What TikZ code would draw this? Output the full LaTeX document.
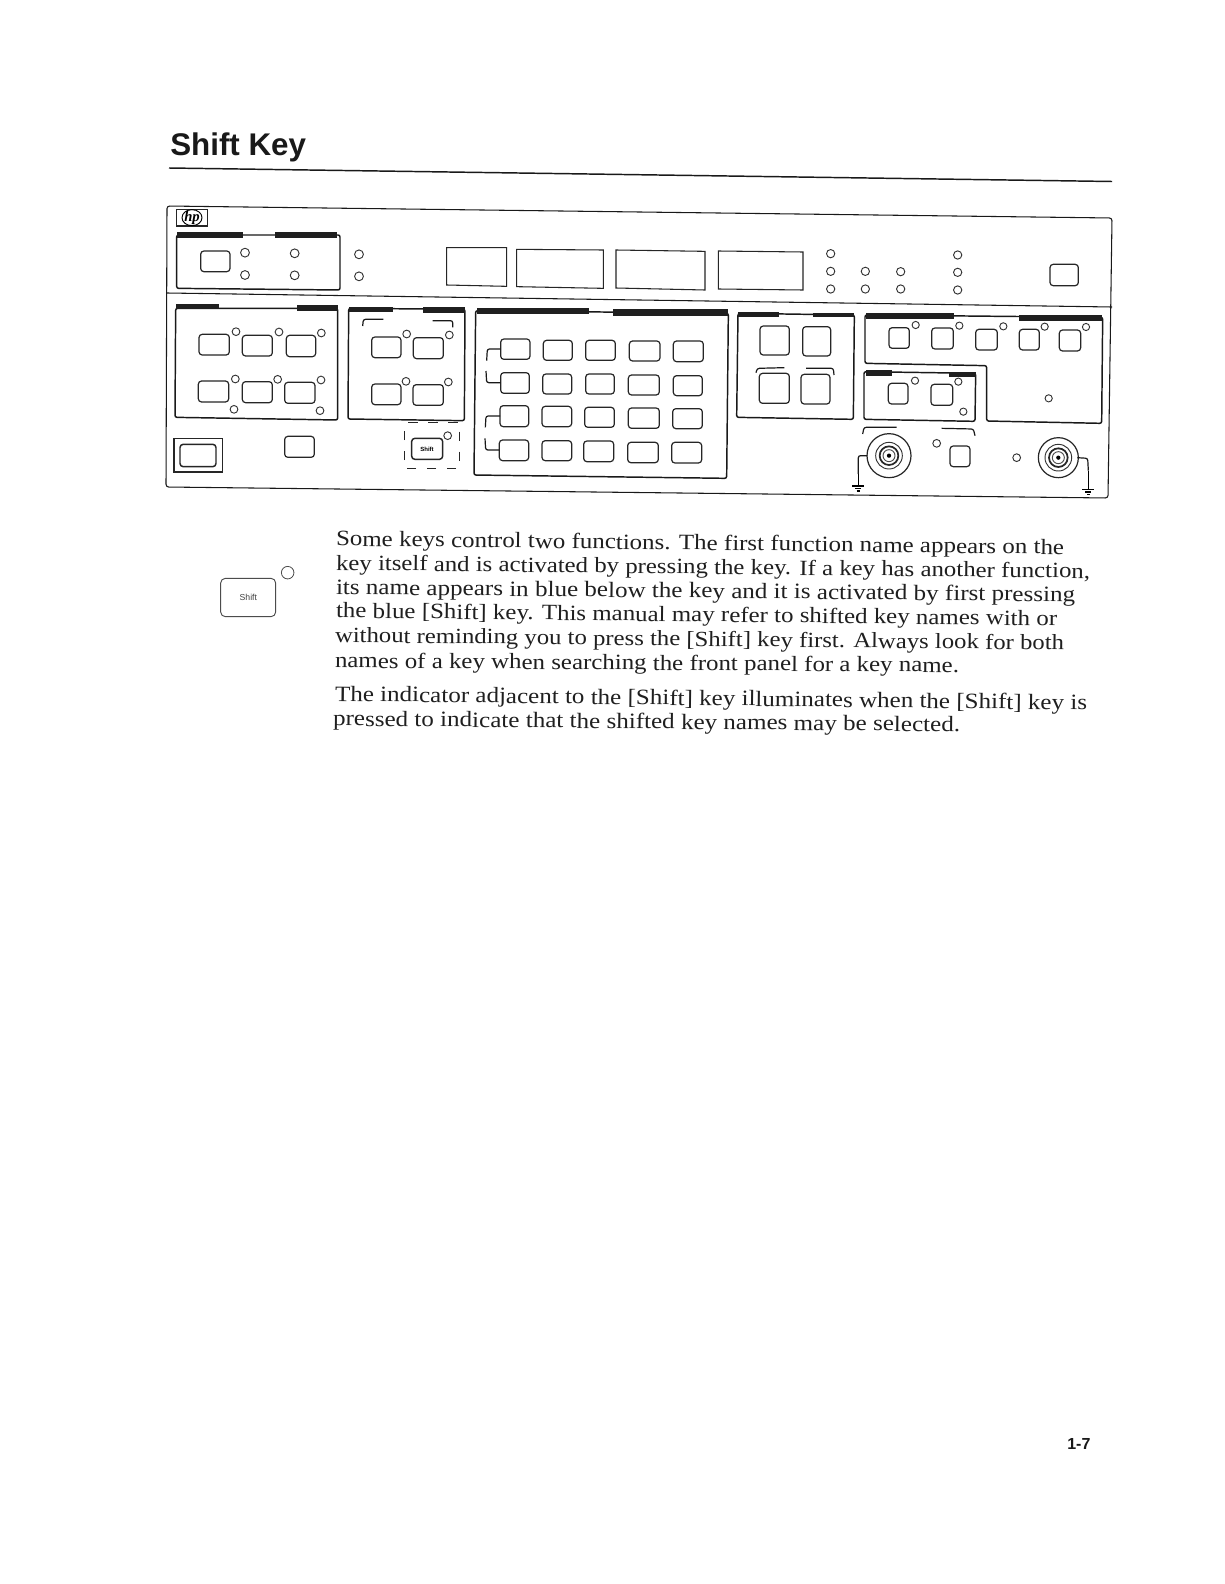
\documentclass[tikz,border=0pt]{standalone}
\usepackage{fontspec}
\setmainfont{Liberation Serif}
\newfontfamily\bodyf[FakeStretch=1.14]{Liberation Serif}
\newfontfamily\headf{Liberation Sans}
\tikzset{
  keybox/.style={draw=black!85,line width=0.9pt,rounded corners=2.4pt,fill=white},
  heavybox/.style={draw=black!90,line width=1.1pt,rounded corners=1.5pt},
  thinbox/.style={draw=black!85,line width=0.8pt},
  led/.style={draw=black!80,line width=0.7pt,fill=white},
  bar/.style={fill=black!88,draw=none},
  wire/.style={draw=black!90,line width=0.9pt,rounded corners=1.6pt},
  rulek/.style={draw=black!90,line width=0.8pt},
  tline/.style={anchor=base west,inner sep=0pt,outer sep=0pt,text=black!88},
  zA/.style={shift={(160,200)},x=0.25pt,y=-0.25pt},
  zB/.style={shift={(460,200)},x=0.25pt,y=-0.25pt},
  zC/.style={shift={(790,200)},x=0.25pt,y=-0.25pt},
  zD/.style={shift={(200,540)},x=0.25pt,y=-0.25pt}
}
\newcommand{\textline}[5]{%
  \pgfmathsetmacro{\angv}{-atan((#4-#2)/(#3-#1))}%
  \pgfmathsetmacro{\wdv}{0.75*(#3-#1)}%
  \node[tline,rotate=\angv] at (#1,#2) {\resizebox{\wdv pt}{!}{\bodyf\fontsize{18}{20}\selectfont #5}};}
\begin{document}
\begin{tikzpicture}[x=0.75pt,y=-0.75pt]
\useasboundingbox[fill=white] (0,0) rectangle (1224,1584);
% heading
\node[anchor=base west,inner sep=0pt,text=black!90] (title) at (170,156) {\headf\bfseries\fontsize{23.5}{26}\selectfont Shift Key};
\coordinate (ruleL) at (169,168);
\coordinate (ruleR) at (1112,181.5);
\draw[line width=1.1pt,black!90] (ruleL) -- (ruleR);
% panel outer
\draw[rulek,rounded corners=2pt] (167,206) -- (1112,218) -- (1108,498) -- (166,487) -- cycle;
\draw[rulek] (167,293) -- (1112,307);
\begin{scope}[zA]
  % logo
  \draw[thinbox] (50,28) rectangle (142,78);
  \draw[line width=0.7pt] (96,53) ellipse (30 and 24);
  \node[inner sep=0pt] (hp) at (96,53) {\bfseries\itshape\fontsize{11}{11}\selectfont hp};
  % panel A
  \draw[heavybox] (50,105) -- (540,105) -- (540,270) -- (50,265) -- cycle;
  \fill[bar] (50,97) rectangle (248,113);
  \fill[bar] (345,97) rectangle (530,113);
  \draw[keybox] (122,153) rectangle (210,215);
  \foreach \p in {(255,158),(255,225),(404,160),(404,226),(597,163),(597,229)}
    \draw[led] \p circle[radius=3.3pt];
  % display 1
  \draw[thinbox] (860,143) -- (1040,143) -- (1040,259) -- (860,255) -- cycle;
  % panel B
  \draw[heavybox] (47,325) -- (533,325) -- (533,660) -- (45,652) -- cycle;
  \fill[bar] (47,312) rectangle (178,328);
  \fill[bar] (410,316) rectangle (533,332);
  \foreach \a/\b/\c/\d in {117/403/208/465,247/406/337/468,379/406/467/470,115/543/206/606,247/545/337/608,374/547/465/610}
    \draw[keybox] (\a,\b) rectangle (\c,\d);
  \foreach \p in {(228,395),(357,396),(484,399),(226,537),(353,538),(483,540),(222,628),(480,632)}
    \draw[led] \p circle[radius=2.9pt];
  % panel C
  \draw[heavybox] (566,325) -- (915,328) -- (913,662) -- (564,657) -- cycle;
  \fill[bar] (566,320) rectangle (698,335);
  \fill[bar] (788,322) rectangle (915,338);
  \draw[wire] (608,378) -- (610,358) -- (670,358);
  \draw[wire] (818,362) -- (878,362) -- (878,382);
  \foreach \a/\b/\c/\d in {635/411/723/473,760/413/850/476,635/552/723/614,759/554/850/616}
    \draw[keybox] (\a,\b) rectangle (\c,\d);
  \foreach \p in {(740,402),(868,405),(738,544),(865,546)}
    \draw[led] \p circle[radius=2.9pt];
  % power
  \draw[thinbox] (42,716) rectangle (188,816);
  \draw[keybox,line width=1.1pt] (60,733) rectangle (168,800);
  \draw[keybox] (374,709) rectangle (463,772);
  % shift key in panel
  \draw[keybox,line width=1.1pt] (755,715) rectangle (848,778);
  \node[inner sep=0pt] (shiftA) at (801,747) {\headf\bfseries\fontsize{4.5}{5}\selectfont Shift};
  \draw[led] (863,707) circle[radius=2.9pt];
  \draw[black!85,line width=0.6pt,dash pattern=on 7pt off 8pt,dash phase=-3pt] (733,668) -- (898,668) -- (898,805) -- (733,805) -- cycle;
\end{scope}
\begin{scope}[zB]
  % displays
  \draw[thinbox] (170,148) -- (430,150) -- (430,265) -- (170,260) -- cycle;
  \draw[thinbox] (468,150) -- (735,154) -- (735,270) -- (468,264) -- cycle;
  \draw[thinbox] (775,153) -- (1029,156) -- (1029,270) -- (775,267) -- cycle;
  % keypad
  \draw[heavybox] (47,332) -- (805,340) -- (800,835) -- (42,825) -- cycle;
  \fill[bar] (50,325) rectangle (388,343);
  \fill[bar] (458,328) rectangle (805,347);
  \foreach \a/\b/\c/\d in {122/417/210/478,250/421/337/481,377/421/466/481,508/423/600/483,640/423/730/485,
     122/518/208/580,248/522/335/582,377/522/463/582,505/525/598/585,640/527/727/587,
     120/617/206/680,246/619/335/680,374/622/463/682,505/624/598/685,638/626/727/686,
     118/720/206/782,246/722/335/782,371/723/461/785,503/727/595/788,635/727/725/789}
    \draw[keybox] (\a,\b) rectangle (\c,\d);
  \draw[wire] (122,447) -- (82,447) -- (80,482);
  \draw[wire] (78,513) -- (80,548) -- (122,548);
  \draw[wire] (120,648) -- (78,648) -- (76,682);
  \draw[wire] (75,715) -- (77,750) -- (118,750);
\end{scope}
\begin{scope}[zC]
  % panel E
  \draw[heavybox] (-156,340) -- (193,345) -- (190,658) -- (-160,652) -- cycle;
  \fill[bar] (-155,335) rectangle (-32,350);
  \fill[bar] (70,338) rectangle (193,352);
  \foreach \a/\b/\c/\d in {38/380/122/468,33/523/120/612,-90/378/-2/465,-92/520/-2/610}
    \draw[keybox] (\a,\b) rectangle (\c,\d);
  \draw[wire] (-102,518) -- (-98,505) -- (-17,503);
  \draw[wire] (48,505) -- (130,505) -- (132,525);
  % top indicators
  \foreach \p in {(122,161),(122,214),(122,267),(226,214),(226,267),(332,215),(332,267),(503,165),(503,217),(503,270)}
    \draw[led] \p circle[radius=3.1pt];
  \draw[keybox] (780,193) rectangle (865,257);
  % panel F
  \draw[heavybox] (225,345) -- (938,352) -- (935,670) -- (590,663) -- (590,497) -- (225,490) -- cycle;
  \fill[bar] (228,340) rectangle (492,357);
  \fill[bar] (688,345) rectangle (937,362);
  \foreach \a/\b/\c/\d in {297/383/358/445,425/384/490/447,557/388/622/450,688/388/748/450,808/390/872/453}
    \draw[keybox] (\a,\b) rectangle (\c,\d);
  \foreach \p in {(377,375),(508,377),(640,379),(764,380),(888,381),(776,595)}
    \draw[led] \p circle[radius=2.7pt];
  % panel G
  \draw[heavybox,fill=white] (222,515) -- (557,520) -- (555,664) -- (222,658) -- cycle;
  \fill[bar] (228,510) rectangle (307,527);
  \fill[bar] (478,515) rectangle (557,530);
  \foreach \a/\b/\c/\d in {295/550/354/612,423/553/488/616}
    \draw[keybox] (\a,\b) rectangle (\c,\d);
  \foreach \p in {(375,542),(505,545),(520,635)}
    \draw[led] \p circle[radius=2.7pt];
  % connectors
  \foreach \cx/\cy/\ro in {297/767/16.5,805/773/15}{
    \draw[black!85,line width=0.9pt] (\cx,\cy) circle[radius=\ro pt];
    \draw[black!80,line width=0.7pt] (\cx,\cy) circle[radius=10pt];
    \draw[black!85,line width=1.3pt] (\cx,\cy) circle[radius=7pt];
    \draw[black!70,line width=0.7pt] (\cx,\cy) circle[radius=4.5pt];
    \fill[black] (\cx,\cy) circle[radius=1.6pt];
  }
  \draw[wire] (218,702) -- (222,682) -- (320,682);
  \draw[wire] (232,767) -- (205,767) -- (205,822);
  \draw[line width=0.9pt] (205,822) -- (205,858);
  \draw[line width=0.9pt] (187,858) -- (222,858);
  \draw[line width=0.9pt] (195,866) -- (214,866);
  \draw[line width=0.9pt] (200,873) -- (209,873);
  \draw[wire] (862,773) -- (893,775) -- (895,812);
  \draw[line width=0.9pt] (895,812) -- (895,868);
  \draw[line width=0.9pt] (877,868) -- (912,868);
  \draw[line width=0.9pt] (885,876) -- (904,876);
  \draw[line width=0.9pt] (891,883) -- (899,883);
  \draw[keybox] (480,738) rectangle (540,800);
  \draw[led] (440,730) circle[radius=2.9pt];
  \draw[led] (680,773) circle[radius=2.9pt];
  \draw[wire] (455,685) -- (550,687) -- (555,707);
\end{scope}
% margin shift key
\begin{scope}[zD]
  \draw[draw=black!70,line width=0.7pt,rounded corners=3.5pt] (62,115) rectangle (227,230);
  \node[inner sep=0pt,text=black!75] (shiftB) at (145,172) {\headf\fontsize{6.5}{7}\selectfont Shift};
  \draw[draw=black!70,line width=0.6pt] (263,98) circle[radius=4.7pt];
\end{scope}
% body text
\textline{336}{545.7}{1064}{554.3}{Some keys control two functions. The first function name appears on the}
\textline{336}{570}{1090}{578.3}{key itself and is activated by pressing the key. If a key has another function,}
\textline{336}{594.3}{1075}{601.7}{its name appears in blue below the key and it is activated by first pressing}
\textline{336}{617.7}{1057}{625.7}{the blue [Shift] key. This manual may refer to shifted key names with or}
\textline{335}{642.3}{1064}{650}{without reminding you to press the [Shift] key first. Always look for both}
\textline{335}{667.7}{959}{672.3}{names of a key when searching the front panel for a key name.}
\textline{335}{701}{1087}{710}{The indicator adjacent to the [Shift] key illuminates when the [Shift] key is}
\textline{333}{725.7}{960}{731.7}{pressed to indicate that the shifted key names may be selected.}
% page number
\node[anchor=base west,inner sep=0pt,text=black!90] (pageno) at (1067,1449) {\headf\bfseries\fontsize{12}{12}\selectfont 1-7};
\end{tikzpicture}
\end{document}
